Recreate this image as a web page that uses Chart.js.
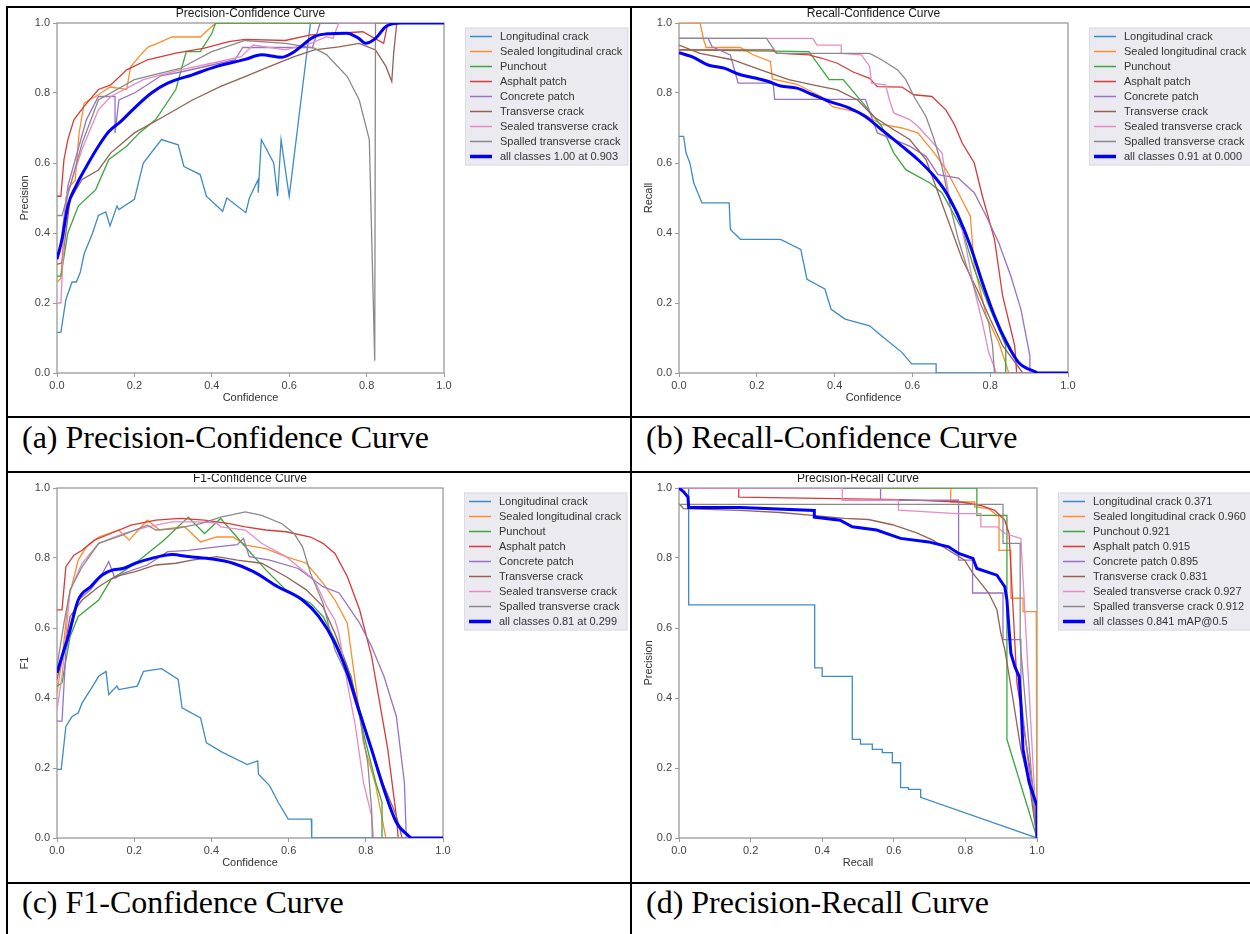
<!DOCTYPE html>
<html>
<head>
<meta charset="utf-8">
<script src="https://cdn.jsdelivr.net/npm/chart.js@4.4.0/dist/chart.umd.min.js"></script>
<style>
  body { margin: 0; background: #fff; }
  #page { position: relative; width: 1250px; height: 934px; overflow: hidden; background: #fff; }
  .rule { position: absolute; background: #000; }
  .caption { position: absolute; font-family: 'Liberation Serif', 'Times New Roman', serif; font-size: 32px; line-height: 32px; color: #000; white-space: nowrap; }
  canvas { position: absolute; }
</style>
</head>
<body>
<div id="page">
  <div class="rule" style="left:6px;top:6px;width:1244px;height:2px"></div>
  <div class="rule" style="left:6px;top:6px;width:2px;height:928px"></div>
  <div class="rule" style="left:630px;top:6px;width:2px;height:928px"></div>
  <div class="rule" style="left:6px;top:416px;width:1244px;height:2px"></div>
  <div class="rule" style="left:6px;top:471px;width:1244px;height:2px"></div>
  <div class="rule" style="left:6px;top:882px;width:1244px;height:2px"></div>

  <div class="caption" style="left:22px;top:421px">(a) Precision-Confidence Curve</div>
  <div class="caption" style="left:646px;top:421px">(b) Recall-Confidence Curve</div>
  <div class="caption" style="left:22px;top:886px">(c) F1-Confidence Curve</div>
  <div class="caption" style="left:646px;top:886px">(d) Precision-Recall Curve</div>

  <canvas id="pcChart"></canvas>
  <canvas id="rcChart"></canvas>
  <canvas id="f1Chart"></canvas>
  <canvas id="prChart"></canvas>
</div>

<script>
// ---- data ----
const classNames = ['Longitudinal crack', 'Sealed longitudinal crack', 'Punchout', 'Asphalt patch',
  'Concrete patch', 'Transverse crack', 'Sealed transverse crack', 'Spalled transverse crack'];
const classAP = [0.371, 0.960, 0.921, 0.915, 0.895, 0.831, 0.927, 0.912];
const tickValues = [0, 0.2, 0.4, 0.6, 0.8, 1.0];

// Precision-Confidence  [confidence, precision]
const pcLongitudinal = [[0,0.116],[0.01,0.116],[0.023,0.21],[0.039,0.26],[0.05,0.26],[0.06,0.287],[0.07,0.34],[0.092,0.40],[0.107,0.45],[0.126,0.46],[0.137,0.42],[0.155,0.477],[0.16,0.467],[0.2,0.496],[0.223,0.60],[0.27,0.667],[0.313,0.652],[0.328,0.59],[0.37,0.567],[0.386,0.505],[0.428,0.462],[0.439,0.50],[0.488,0.458],[0.497,0.50],[0.52,0.553],[0.52,0.515],[0.528,0.667],[0.56,0.60],[0.57,0.505],[0.579,0.667],[0.60,0.505],[0.655,1.0],[1.0,1.0]];
const pcSealedLong = [[0,0.26],[0.01,0.27],[0.02,0.45],[0.03,0.53],[0.047,0.55],[0.057,0.685],[0.07,0.77],[0.082,0.78],[0.1,0.79],[0.137,0.817],[0.18,0.81],[0.19,0.874],[0.219,0.913],[0.236,0.932],[0.258,0.941],[0.297,0.96],[0.37,0.96],[0.41,1.0],[1.0,1.0]];
const pcPunchout = [[0,0.277],[0.01,0.277],[0.028,0.40],[0.055,0.477],[0.10,0.524],[0.134,0.61],[0.18,0.648],[0.213,0.686],[0.255,0.724],[0.307,0.81],[0.334,0.918],[0.37,0.918],[0.40,0.97],[0.41,1.0],[1.0,1.0]];
const pcAsphalt = [[0,0.505],[0.01,0.505],[0.018,0.61],[0.028,0.667],[0.044,0.724],[0.07,0.762],[0.107,0.81],[0.139,0.823],[0.18,0.866],[0.234,0.895],[0.307,0.914],[0.381,0.928],[0.444,0.947],[0.486,0.953],[0.59,0.95],[0.655,0.966],[0.718,0.97],[0.79,0.975],[0.844,0.942],[0.855,1.0],[1.0,1.0]];
const pcConcrete = [[0,0.344],[0.007,0.344],[0.028,0.534],[0.076,0.724],[0.107,0.79],[0.15,0.79],[0.15,0.686],[0.16,0.78],[0.2,0.80],[0.27,0.85],[0.32,0.86],[0.40,0.88],[0.46,0.895],[0.48,0.93],[0.6,0.93],[0.66,0.93],[0.68,1.0],[1.0,1.0]];
const pcTransverse = [[0,0.31],[0.013,0.315],[0.034,0.496],[0.065,0.553],[0.107,0.58],[0.139,0.629],[0.2,0.686],[0.276,0.733],[0.35,0.78],[0.423,0.819],[0.486,0.847],[0.55,0.876],[0.613,0.904],[0.665,0.923],[0.728,0.932],[0.781,0.942],[0.823,0.923],[0.85,0.876],[0.865,0.833],[0.87,0.914],[0.878,1.0],[1.0,1.0]];
const pcSealedTrans = [[0,0.2],[0.01,0.2],[0.023,0.5],[0.065,0.64],[0.107,0.752],[0.139,0.79],[0.223,0.838],[0.318,0.866],[0.40,0.885],[0.476,0.904],[0.507,0.937],[0.59,0.923],[0.655,0.942],[0.697,0.961],[0.713,0.956],[0.728,1.0],[1.0,1.0]];
const pcSpalled = [[0,0.45],[0.013,0.45],[0.065,0.657],[0.107,0.78],[0.2,0.838],[0.318,0.87],[0.40,0.918],[0.486,0.95],[0.59,0.942],[0.665,0.928],[0.697,0.909],[0.75,0.847],[0.781,0.78],[0.807,0.667],[0.821,0.035],[0.823,1.0],[1.0,1.0]];
const pcAll = [[0,0.325],[0.013,0.382],[0.028,0.477],[0.049,0.534],[0.076,0.59],[0.107,0.648],[0.134,0.69],[0.165,0.719],[0.2,0.757],[0.244,0.80],[0.286,0.828],[0.35,0.852],[0.413,0.876],[0.486,0.896],[0.528,0.909],[0.58,0.902],[0.607,0.914],[0.665,0.961],[0.697,0.969],[0.749,0.971],[0.78,0.956],[0.797,0.942],[0.823,0.956],[0.85,0.99],[0.89,1.0],[1.0,1.0]];

// Recall-Confidence  [confidence, recall]
const rcLongitudinal = [[0,0.676],[0.012,0.676],[0.018,0.629],[0.028,0.60],[0.038,0.543],[0.059,0.486],[0.129,0.486],[0.132,0.41],[0.158,0.382],[0.261,0.382],[0.313,0.353],[0.329,0.268],[0.375,0.24],[0.391,0.182],[0.427,0.154],[0.49,0.135],[0.521,0.106],[0.573,0.059],[0.598,0.026],[0.661,0.026],[0.661,0],[1,0]];
const rcSealedLong = [[0,1.0],[0.054,1.0],[0.064,0.95],[0.07,0.93],[0.158,0.93],[0.189,0.91],[0.235,0.89],[0.24,0.84],[0.303,0.825],[0.365,0.79],[0.396,0.76],[0.469,0.743],[0.521,0.71],[0.573,0.70],[0.614,0.686],[0.656,0.629],[0.687,0.581],[0.718,0.515],[0.749,0.448],[0.759,0.306],[0.79,0.163],[0.822,0.087],[0.848,0],[1,0]];
const rcPunchout = [[0,0.923],[0.334,0.918],[0.386,0.838],[0.422,0.838],[0.48,0.762],[0.521,0.705],[0.552,0.629],[0.583,0.581],[0.645,0.543],[0.676,0.515],[0.728,0.41],[0.759,0.296],[0.80,0.182],[0.84,0.078],[0.84,0],[1,0]];
const rcAsphalt = [[0,0.923],[0.241,0.923],[0.251,0.914],[0.334,0.909],[0.365,0.90],[0.407,0.885],[0.448,0.86],[0.49,0.842],[0.51,0.818],[0.573,0.817],[0.604,0.795],[0.65,0.79],[0.686,0.752],[0.708,0.71],[0.728,0.657],[0.759,0.60],[0.78,0.505],[0.811,0.382],[0.832,0.22],[0.863,0.078],[0.868,0],[1,0]];
const rcConcrete = [[0,0.956],[0.075,0.956],[0.085,0.932],[0.132,0.909],[0.152,0.828],[0.242,0.828],[0.246,0.782],[0.479,0.782],[0.51,0.686],[0.593,0.648],[0.635,0.619],[0.666,0.567],[0.718,0.557],[0.759,0.515],[0.79,0.448],[0.822,0.372],[0.853,0.277],[0.879,0.182],[0.902,0.049],[0.902,0],[1,0]];
const rcTransverse = [[0,0.937],[0.054,0.913],[0.137,0.895],[0.21,0.866],[0.282,0.838],[0.344,0.823],[0.407,0.809],[0.459,0.78],[0.50,0.733],[0.552,0.695],[0.593,0.667],[0.635,0.61],[0.666,0.515],[0.697,0.42],[0.728,0.325],[0.77,0.23],[0.80,0.154],[0.832,0.078],[0.884,0],[1,0]];
const rcSealedTrans = [[0,0.956],[0.344,0.956],[0.355,0.937],[0.417,0.937],[0.417,0.913],[0.469,0.909],[0.49,0.876],[0.495,0.828],[0.531,0.823],[0.541,0.78],[0.552,0.743],[0.593,0.724],[0.614,0.705],[0.645,0.667],[0.676,0.629],[0.687,0.553],[0.697,0.486],[0.718,0.458],[0.739,0.353],[0.759,0.239],[0.78,0.144],[0.796,0.059],[0.816,0],[1,0]];
const rcSpalled = [[0,0.956],[0.225,0.956],[0.251,0.913],[0.49,0.913],[0.521,0.895],[0.562,0.866],[0.583,0.838],[0.604,0.79],[0.635,0.733],[0.656,0.667],[0.676,0.59],[0.697,0.477],[0.718,0.382],[0.739,0.306],[0.77,0.211],[0.796,0.144],[0.806,0.078],[0.811,0],[1,0]];
const rcAll = [[0,0.915],[0.033,0.904],[0.075,0.88],[0.116,0.871],[0.158,0.852],[0.199,0.842],[0.23,0.833],[0.261,0.82],[0.303,0.814],[0.344,0.795],[0.386,0.776],[0.438,0.757],[0.479,0.733],[0.521,0.695],[0.573,0.648],[0.614,0.61],[0.656,0.562],[0.687,0.515],[0.718,0.448],[0.749,0.363],[0.78,0.258],[0.811,0.163],[0.842,0.087],[0.873,0.03],[0.915,0.004],[0.925,0],[1,0]];

// F1-Confidence  [confidence, f1]
const f1Longitudinal = [[0,0.196],[0.011,0.196],[0.023,0.319],[0.039,0.347],[0.055,0.357],[0.065,0.386],[0.087,0.424],[0.108,0.462],[0.127,0.476],[0.134,0.41],[0.155,0.434],[0.16,0.424],[0.208,0.434],[0.224,0.476],[0.271,0.484],[0.314,0.453],[0.324,0.372],[0.372,0.343],[0.387,0.272],[0.43,0.244],[0.493,0.21],[0.52,0.22],[0.522,0.182],[0.551,0.149],[0.573,0.102],[0.599,0.054],[0.659,0.054],[0.66,0],[1,0]];
const f1SealedLong = [[0,0.415],[0.013,0.51],[0.029,0.68],[0.055,0.794],[0.076,0.832],[0.108,0.86],[0.16,0.88],[0.187,0.851],[0.234,0.908],[0.266,0.88],[0.33,0.89],[0.372,0.846],[0.414,0.86],[0.456,0.86],[0.488,0.837],[0.541,0.827],[0.593,0.804],[0.646,0.785],[0.689,0.728],[0.72,0.68],[0.752,0.614],[0.773,0.443],[0.794,0.272],[0.826,0.149],[0.852,0],[1,0]];
const f1Punchout = [[0,0.434],[0.013,0.443],[0.034,0.576],[0.055,0.633],[0.108,0.68],[0.139,0.737],[0.203,0.785],[0.277,0.851],[0.34,0.917],[0.382,0.87],[0.424,0.913],[0.488,0.832],[0.541,0.766],[0.593,0.709],[0.657,0.671],[0.689,0.633],[0.72,0.566],[0.762,0.462],[0.794,0.30],[0.826,0.158],[0.842,0.102],[0.842,0],[1,0]];
const f1Asphalt = [[0,0.652],[0.013,0.652],[0.023,0.775],[0.044,0.808],[0.065,0.822],[0.097,0.851],[0.139,0.87],[0.192,0.894],[0.256,0.908],[0.319,0.913],[0.382,0.908],[0.446,0.898],[0.488,0.889],[0.541,0.88],[0.593,0.875],[0.657,0.86],[0.689,0.842],[0.72,0.813],[0.752,0.747],[0.784,0.652],[0.815,0.519],[0.842,0.348],[0.857,0.253],[0.879,0.064],[0.884,0],[1,0]];
const f1Concrete = [[0,0.334],[0.013,0.334],[0.023,0.535],[0.055,0.68],[0.087,0.709],[0.118,0.756],[0.134,0.79],[0.15,0.742],[0.171,0.756],[0.234,0.78],[0.287,0.818],[0.34,0.822],[0.414,0.832],[0.467,0.838],[0.483,0.856],[0.498,0.804],[0.551,0.794],[0.625,0.77],[0.689,0.718],[0.731,0.70],[0.784,0.614],[0.815,0.547],[0.847,0.462],[0.879,0.348],[0.90,0.158],[0.905,0],[1,0]];
const f1Transverse = [[0,0.453],[0.018,0.535],[0.034,0.633],[0.065,0.68],[0.108,0.718],[0.15,0.747],[0.203,0.761],[0.256,0.78],[0.308,0.785],[0.35,0.794],[0.414,0.804],[0.467,0.794],[0.53,0.785],[0.593,0.747],[0.646,0.709],[0.689,0.661],[0.72,0.585],[0.752,0.49],[0.784,0.367],[0.815,0.253],[0.847,0.149],[0.879,0.064],[0.894,0],[1,0]];
const f1SealedTrans = [[0,0.367],[0.013,0.462],[0.034,0.709],[0.065,0.785],[0.108,0.842],[0.171,0.87],[0.234,0.889],[0.298,0.903],[0.361,0.903],[0.414,0.9],[0.424,0.889],[0.488,0.88],[0.53,0.842],[0.593,0.804],[0.636,0.766],[0.667,0.737],[0.699,0.661],[0.72,0.623],[0.73,0.585],[0.752,0.443],[0.773,0.32],[0.794,0.158],[0.815,0.064],[0.82,0],[1,0]];
const f1Spalled = [[0,0.49],[0.018,0.614],[0.034,0.709],[0.065,0.775],[0.108,0.842],[0.171,0.866],[0.234,0.894],[0.256,0.88],[0.308,0.884],[0.372,0.898],[0.424,0.917],[0.488,0.932],[0.53,0.922],[0.583,0.898],[0.614,0.87],[0.636,0.832],[0.657,0.756],[0.689,0.671],[0.72,0.538],[0.752,0.462],[0.784,0.348],[0.805,0.215],[0.815,0.083],[0.817,0],[1,0]];
const f1All = [[0,0.472],[0.013,0.519],[0.029,0.576],[0.055,0.68],[0.087,0.718],[0.118,0.752],[0.145,0.766],[0.171,0.77],[0.203,0.785],[0.245,0.799],[0.298,0.81],[0.34,0.804],[0.403,0.797],[0.456,0.785],[0.509,0.761],[0.572,0.718],[0.636,0.68],[0.678,0.633],[0.72,0.557],[0.752,0.472],[0.784,0.358],[0.815,0.253],[0.847,0.139],[0.879,0.045],[0.91,0.007],[0.92,0],[1,0]];

// Precision-Recall  [recall, precision]
const prLongitudinal = [[0,1],[0.027,1],[0.027,0.666],[0.379,0.666],[0.379,0.486],[0.40,0.486],[0.40,0.462],[0.484,0.462],[0.484,0.282],[0.507,0.282],[0.507,0.268],[0.54,0.268],[0.54,0.253],[0.568,0.253],[0.568,0.244],[0.596,0.244],[0.596,0.215],[0.619,0.215],[0.619,0.144],[0.641,0.144],[0.641,0.139],[0.675,0.139],[0.675,0.116],[1,0]];
const prSealedLong = [[0,1],[0.759,1],[0.759,0.96],[0.826,0.96],[0.826,0.946],[0.865,0.941],[0.894,0.917],[0.894,0.822],[0.927,0.822],[0.927,0.685],[0.961,0.685],[0.961,0.647],[0.998,0.647],[1,0]];
const prPunchout = [[0,1],[0.832,1],[0.832,0.922],[0.916,0.922],[0.916,0.282],[1,0]];
const prAsphalt = [[0,1],[0.167,1],[0.167,0.974],[0.619,0.967],[0.787,0.96],[0.843,0.95],[0.882,0.936],[0.91,0.908],[0.922,0.87],[0.944,0.443],[1,0.064],[1,0]];
const prConcrete = [[0,1],[0.563,1],[0.563,0.965],[0.781,0.965],[0.781,0.794],[0.82,0.794],[0.82,0.70],[0.905,0.70],[0.905,0.567],[0.955,0.567],[0.955,0.40],[1,0]];
const prTransverse = [[0,0.955],[0.013,0.941],[0.17,0.936],[0.283,0.93],[0.372,0.922],[0.462,0.913],[0.529,0.91],[0.596,0.895],[0.664,0.872],[0.709,0.851],[0.753,0.822],[0.798,0.794],[0.821,0.756],[0.843,0.728],[0.865,0.70],[0.888,0.652],[0.899,0.585],[0.91,0.538],[0.933,0.396],[0.955,0.253],[0.978,0.158],[1,0]];
const prSealedTrans = [[0,1],[0.456,1],[0.456,0.965],[0.613,0.965],[0.613,0.937],[0.776,0.927],[0.843,0.927],[0.843,0.889],[0.888,0.889],[0.91,0.87],[0.938,0.861],[0.955,0.856],[1,0]];
const prSpalled = [[0,0.953],[0.905,0.953],[0.905,0.842],[0.953,0.842],[0.953,0.56],[1,0]];
const prAll = [[0,1],[0.013,0.989],[0.025,0.974],[0.027,0.944],[0.17,0.944],[0.378,0.936],[0.378,0.917],[0.45,0.908],[0.484,0.889],[0.552,0.88],[0.619,0.856],[0.697,0.846],[0.753,0.832],[0.781,0.813],[0.821,0.799],[0.832,0.77],[0.888,0.751],[0.91,0.718],[0.916,0.68],[0.922,0.595],[0.927,0.528],[0.938,0.49],[0.95,0.462],[0.955,0.387],[0.961,0.253],[0.978,0.158],[1,0.092],[1,0]];

// ---- style ----
const classColors = ['#3f8bc4', '#ff8c2a', '#3aa83a', '#d83a3a', '#9a72c2', '#946253', '#e68ac8', '#8a8a8a'];
const allColor = '#0000ff';
const FONT = "'Liberation Sans', Arial, sans-serif";

const panelDecor = {
  id: 'panelDecor',
  beforeDatasetsDraw(chart) {
    const { ctx, chartArea: a } = chart;
    ctx.save();
    ctx.strokeStyle = '#9a9a9a';
    ctx.lineWidth = 1.3;
    ctx.strokeRect(a.left, a.top, a.right - a.left, a.bottom - a.top);
    ctx.restore();
  },
  afterDraw(chart, args, opts) {
    const { ctx, chartArea: a } = chart;
    ctx.save();
    ctx.font = '12px ' + FONT;
    ctx.fillStyle = '#1a1a1a';
    ctx.textAlign = 'center';
    ctx.textBaseline = 'middle';
    ctx.fillText(opts.title, (a.left + a.right) / 2, a.top - 9);

    // legend box
    ctx.font = '11px ' + FONT;
    const items = chart.data.datasets;
    const textW = Math.max(...items.map(d => ctx.measureText(d.label).width));
    const bx = a.right + 21, by = a.top + 4.5;
    const bw = 35 + textW + 6, bh = items.length * 15 + 3;
    ctx.fillStyle = '#eaeaf0';
    ctx.strokeStyle = '#dcdce4';
    ctx.lineWidth = 1;
    ctx.fillRect(bx, by, bw, bh);
    ctx.strokeRect(bx + 0.5, by + 0.5, bw - 1, bh - 1);
    ctx.textAlign = 'left';
    items.forEach((d, i) => {
      const y = by + 9 + i * 15;
      ctx.strokeStyle = d.borderColor;
      ctx.lineWidth = d.borderWidth > 2 ? 3.5 : 1.5;
      ctx.beginPath();
      ctx.moveTo(bx + 5, y);
      ctx.lineTo(bx + 27, y);
      ctx.stroke();
      ctx.fillStyle = '#333';
      ctx.fillText(d.label, bx + 35, y);
    });
    ctx.restore();
  }
};

function buildDatasets(series, labels, allSeries, allLabel, smooth) {
  const sets = series.map((pts, i) => ({
    label: labels[i],
    data: pts.map(([x, y]) => ({ x, y })),
    borderColor: classColors[i],
    borderWidth: 1.3,
    pointRadius: 0,
    tension: 0,
    order: 9 - i
  }));
  sets.push({
    label: allLabel,
    data: allSeries.map(([x, y]) => ({ x, y })),
    borderColor: allColor,
    borderWidth: 3,
    pointRadius: 0,
    cubicInterpolationMode: smooth ? 'monotone' : 'default',
    tension: 0,
    order: 0
  });
  return sets;
}

function makePanel(id, box, area, yTitleX, title, xTitle, yTitle, datasets) {
  const cv = document.getElementById(id);
  cv.width = box.w; cv.height = box.h;
  Object.assign(cv.style, { left: box.x + 'px', top: box.y + 'px', width: box.w + 'px', height: box.h + 'px' });
  const padLeft = Math.round(yTitleX - box.x - 7);
  const yWidth = area.l - box.x - padLeft;
  const xHeight = 32;
  const padTop = area.t - box.y;
  const padRight = box.x + box.w - area.r;
  const padBottom = box.y + box.h - area.b - xHeight;

  const tickFont = { family: FONT, size: 11 };
  return new Chart(cv, {
    type: 'line',
    data: { datasets },
    options: {
      responsive: false,
      animation: false,
      devicePixelRatio: 1,
      layout: { padding: { left: padLeft, top: padTop, right: padRight, bottom: padBottom } },
      plugins: { legend: { display: false }, tooltip: { enabled: false }, panelDecor: { title } },
      scales: {
        x: {
          type: 'linear', min: 0, max: 1,
          afterBuildTicks: s => { s.ticks = tickValues.map(v => ({ value: v })); },
          afterFit: s => { s.height = xHeight; s.paddingLeft = 0; s.paddingRight = 0; },
          border: { display: false },
          grid: { drawOnChartArea: false, drawTicks: true, tickLength: 4, color: '#9a9a9a' },
          ticks: { font: tickFont, color: '#444', padding: 2, maxRotation: 0, autoSkip: false, callback: v => v.toFixed(1) },
          title: { display: true, text: xTitle, font: tickFont, color: '#333', padding: 0 }
        },
        y: {
          type: 'linear', min: 0, max: 1,
          afterBuildTicks: s => { s.ticks = tickValues.map(v => ({ value: v })); },
          afterFit: s => { s.width = yWidth; s.paddingTop = 0; s.paddingBottom = 0; },
          border: { display: false },
          grid: { drawOnChartArea: false, drawTicks: true, tickLength: 4, color: '#9a9a9a' },
          ticks: { font: tickFont, color: '#444', padding: 3, autoSkip: false, callback: v => v.toFixed(1) },
          title: { display: true, text: yTitle, font: tickFont, color: '#333', padding: 0 }
        }
      }
    },
    plugins: [panelDecor]
  });
}

makePanel('pcChart', { x: 9, y: 8, w: 620, h: 407 }, { l: 57, t: 23, r: 444, b: 373 }, 25,
  'Precision-Confidence Curve', 'Confidence', 'Precision',
  buildDatasets([pcLongitudinal, pcSealedLong, pcPunchout, pcAsphalt, pcConcrete, pcTransverse, pcSealedTrans, pcSpalled],
    classNames, pcAll, 'all classes 1.00 at 0.903', true));

makePanel('rcChart', { x: 633, y: 8, w: 617, h: 407 }, { l: 679, t: 23, r: 1068, b: 373 }, 649,
  'Recall-Confidence Curve', 'Confidence', 'Recall',
  buildDatasets([rcLongitudinal, rcSealedLong, rcPunchout, rcAsphalt, rcConcrete, rcTransverse, rcSealedTrans, rcSpalled],
    classNames, rcAll, 'all classes 0.91 at 0.000', true));

makePanel('f1Chart', { x: 9, y: 474, w: 620, h: 407 }, { l: 57, t: 488, r: 443, b: 838 }, 25,
  'F1-Confidence Curve', 'Confidence', 'F1',
  buildDatasets([f1Longitudinal, f1SealedLong, f1Punchout, f1Asphalt, f1Concrete, f1Transverse, f1SealedTrans, f1Spalled],
    classNames, f1All, 'all classes 0.81 at 0.299', true));

makePanel('prChart', { x: 633, y: 474, w: 617, h: 407 }, { l: 679, t: 488, r: 1037, b: 838 }, 649,
  'Precision-Recall Curve', 'Recall', 'Precision',
  buildDatasets([prLongitudinal, prSealedLong, prPunchout, prAsphalt, prConcrete, prTransverse, prSealedTrans, prSpalled],
    classNames.map((n, i) => n + ' ' + classAP[i].toFixed(3)), prAll, 'all classes 0.841 mAP@0.5', false));
</script>
</body>
</html>
